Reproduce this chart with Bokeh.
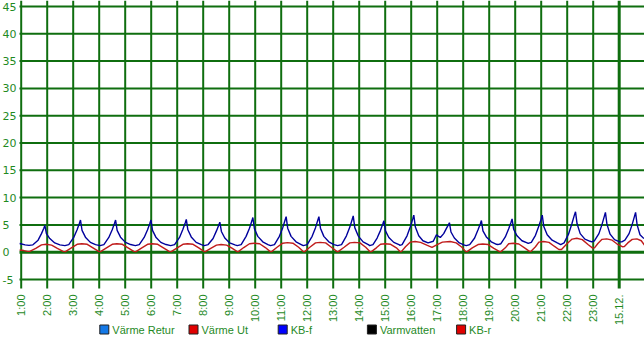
import math
from bokeh.plotting import figure
from bokeh.core.properties import value
from bokeh.embed import file_html
from bokeh.resources import INLINE

# ---- data (hours since midnight 14.12; 24 = 15.12. 00:00) ----
x_ticks = list(range(1, 25))
x_tick_labels = ["1:00", "2:00", "3:00", "4:00", "5:00", "6:00", "7:00", "8:00",
                 "9:00", "10:00", "11:00", "12:00", "13:00", "14:00", "15:00",
                 "16:00", "17:00", "18:00", "19:00", "20:00", "21:00", "22:00",
                 "23:00", "15.12."]
y_ticks = [-5, 0, 5, 10, 15, 20, 25, 30, 35, 40, 45]
y_tick_labels = [str(v) for v in y_ticks]

kbf_t = [0.94, 1.15, 1.30, 1.45, 1.65, 1.78, 1.87, 1.91, 1.97, 2.10, 2.29, 2.49,
         2.68, 2.83, 3.02, 3.15, 3.24, 3.28, 3.34, 3.47, 3.66, 3.86,
         4.03, 4.18, 4.37, 4.50, 4.59, 4.63, 4.69, 4.82, 5.01, 5.21,
         5.39, 5.54, 5.73, 5.86, 5.95, 5.99, 6.05, 6.18, 6.37, 6.57,
         6.75, 6.90, 7.09, 7.22, 7.31, 7.35, 7.41, 7.54, 7.73, 7.93,
         8.04, 8.19, 8.38, 8.51, 8.60, 8.64, 8.70, 8.83, 9.02, 9.22,
         9.31, 9.46, 9.65, 9.78, 9.87, 9.91, 9.97, 10.10, 10.29, 10.49,
         10.59, 10.74, 10.93, 11.06, 11.15, 11.19, 11.25, 11.38, 11.57, 11.77,
         11.85, 12.00, 12.19, 12.32, 12.41, 12.45, 12.51, 12.64, 12.83, 13.03,
         13.17, 13.32, 13.51, 13.64, 13.73, 13.77, 13.83, 13.96, 14.15, 14.35,
         14.40, 14.53, 14.69, 14.82, 14.91, 14.95, 15.01, 15.14, 15.33, 15.53,
         15.56, 15.65, 15.84, 15.97, 16.06, 16.10, 16.16, 16.29, 16.45, 16.65, 16.85,
         16.97, 17.05, 17.12, 17.25, 17.36, 17.43, 17.47, 17.53, 17.66, 17.85, 18.05,
         18.12, 18.25, 18.44, 18.57, 18.66, 18.70, 18.76, 18.89, 19.08, 19.28,
         19.33, 19.45, 19.62, 19.75, 19.84, 19.88, 19.94, 20.07, 20.26, 20.46,
         20.50, 20.62, 20.78, 20.91, 21.00, 21.04, 21.10, 21.23, 21.42, 21.62,
         21.75, 21.88, 22.05, 22.18, 22.27, 22.32, 22.38, 22.50, 22.68, 22.88,
         22.95, 23.05, 23.22, 23.34, 23.43, 23.47, 23.53, 23.65, 23.82, 24.02,
         24.10, 24.22, 24.38, 24.50, 24.59, 24.63, 24.69, 24.80, 24.95]
kbf_v = [1.6, 1.35, 1.25, 1.35, 2.2, 3.4, 4.4, 4.9, 3.4, 2.5, 1.7, 1.35,
         1.2, 1.4, 2.7, 4.1, 5.3, 5.9, 4.0, 2.75, 1.8, 1.4,
         1.2, 1.4, 2.7, 4.1, 5.3, 5.9, 4.0, 2.75, 1.8, 1.4,
         1.2, 1.4, 2.7, 4.1, 5.3, 5.9, 4.0, 2.75, 1.8, 1.4,
         1.2, 1.4, 2.7, 4.2, 5.4, 6.0, 4.1, 2.8, 1.8, 1.4,
         1.2, 1.4, 2.5, 3.9, 5.0, 5.5, 3.8, 2.6, 1.7, 1.35,
         1.2, 1.4, 2.9, 4.4, 5.7, 6.35, 4.3, 2.9, 1.9, 1.4,
         1.2, 1.4, 2.9, 4.5, 5.9, 6.5, 4.4, 2.9, 1.9, 1.4,
         1.2, 1.4, 2.9, 4.5, 5.9, 6.5, 4.4, 2.9, 1.9, 1.4,
         1.2, 1.4, 3.0, 4.6, 6.0, 6.65, 4.5, 3.0, 1.9, 1.4,
         1.2, 1.4, 2.6, 4.0, 5.2, 5.75, 3.9, 2.7, 1.8, 1.4,
         1.25, 1.4, 3.0, 4.7, 6.1, 6.8, 4.6, 3.0, 2.1, 1.7, 2.0,
         3.2, 2.9, 2.7, 3.4, 4.4, 5.0, 5.4, 3.7, 2.6, 1.7, 1.3,
         1.2, 1.4, 2.6, 4.1, 5.2, 5.8, 3.9, 2.8, 1.9, 1.45,
         1.4, 1.55, 2.8, 4.3, 5.5, 6.1, 4.2, 3.0, 2.1, 1.7,
         1.6, 1.8, 3.1, 4.8, 6.1, 6.8, 4.7, 3.2, 2.2, 1.7,
         1.4, 1.7, 3.3, 5.2, 6.7, 7.4, 5.2, 3.4, 2.4, 2.0,
         1.9, 2.1, 3.4, 5.1, 6.6, 7.3, 5.1, 3.3, 2.3, 1.9,
         1.9, 2.2, 3.4, 5.1, 6.6, 7.3, 5.0, 3.2, 2.5]

kbr_t = [0.94, 1.10, 1.25,
         1.33, 1.56, 1.78, 1.96, 2.17, 2.39, 2.61,
         2.70, 2.93, 3.15, 3.33, 3.54, 3.76, 3.98,
         4.05, 4.28, 4.50, 4.68, 4.89, 5.11, 5.33,
         5.41, 5.64, 5.86, 6.04, 6.25, 6.47, 6.69,
         6.77, 7.00, 7.22, 7.40, 7.61, 7.83, 8.03,
         8.08, 8.29, 8.51, 8.69, 8.90, 9.12, 9.31,
         9.35, 9.56, 9.78, 9.96, 10.17, 10.39, 10.58,
         10.63, 10.84, 11.06, 11.24, 11.45, 11.67, 11.86,
         11.90, 12.10, 12.32, 12.50, 12.71, 12.93, 13.15,
         13.19, 13.42, 13.64, 13.82, 14.03, 14.25, 14.42,
         14.47, 14.66, 14.82, 15.00, 15.21, 15.43, 15.58,
         15.62, 15.78, 15.97, 16.15, 16.36, 16.60, 16.80, 17.00, 17.20, 17.50, 17.73, 17.95, 18.10,
         18.15, 18.35, 18.57, 18.75, 18.96, 19.18, 19.40,
         19.45, 19.62, 19.75, 19.93, 20.14, 20.36, 20.55,
         20.60, 20.78, 20.91, 21.09, 21.30, 21.50, 21.68,
         21.78, 21.98, 22.19, 22.37, 22.58, 22.80, 22.98,
         23.05, 23.18, 23.34, 23.52, 23.73, 23.92, 24.12,
         24.20, 24.33, 24.50, 24.68, 24.85, 24.97]
kbr_v = [0.4, 0.3, 0.15,
         0.15, 0.7, 1.35, 1.45, 1.3, 0.7, 0.15,
         0.1, 0.8, 1.45, 1.55, 1.45, 0.8, 0.15,
         0.1, 0.8, 1.45, 1.55, 1.45, 0.8, 0.15,
         0.1, 0.8, 1.45, 1.55, 1.45, 0.8, 0.15,
         0.1, 0.8, 1.45, 1.55, 1.45, 0.8, 0.15,
         0.1, 0.7, 1.3, 1.4, 1.3, 0.7, 0.1,
         0.1, 0.85, 1.55, 1.65, 1.55, 0.85, 0.1,
         0.1, 0.9, 1.65, 1.75, 1.65, 0.9, 0.1,
         0.1, 0.9, 1.7, 1.8, 1.7, 0.9, 0.1,
         0.1, 0.9, 1.7, 1.8, 1.7, 0.9, 0.1,
         0.1, 0.8, 1.45, 1.55, 1.45, 0.8, 0.1,
         0.1, 1.0, 1.85, 1.95, 1.8, 1.3, 0.9, 1.4, 1.85, 1.95, 1.7, 0.9, 0.1,
         0.1, 0.8, 1.4, 1.5, 1.4, 0.7, 0.1,
         0.1, 0.8, 1.55, 1.65, 1.5, 0.8, 0.15,
         0.15, 1.0, 1.85, 1.95, 1.8, 1.1, 0.5,
         0.5, 1.5, 2.4, 2.55, 2.3, 1.4, 0.75,
         0.8, 1.6, 2.35, 2.45, 2.2, 1.5, 1.0,
         1.05, 1.7, 2.35, 2.45, 2.1, 1.3]

legend_names = ["Värme Retur", "Värme Ut", "KB-f", "Varmvatten", "KB-r"]
legend_colors = ["#1478e6", "#e00000", "#0000ff", "#000000", "#e00000"]

GRID = "#0f6e0f"
TEXT = "#1f8a1f"

# ---- geometry (pixels of the 644x339 canvas) ----
W, H = 644, 339
PX_PER_H = 26.0          # one hour
PX_PER_UNIT = 5.46       # one y unit
X_ONE = 20.7             # pixel of 1:00
Y_ZERO = 251.7           # pixel of value 0
PLOT_LEFT_PX, PLOT_BOTTOM_PX = 19.0, 288.0

x_start = 1 - X_ONE / PX_PER_H
x_end = x_start + W / PX_PER_H
y_top = Y_ZERO / PX_PER_UNIT
y_bot = -(H - Y_ZERO) / PX_PER_UNIT
plot_left = x_start + PLOT_LEFT_PX / PX_PER_H
plot_bottom = -(PLOT_BOTTOM_PX - Y_ZERO) / PX_PER_UNIT


def px_x(px):
    return x_start + px / PX_PER_H


def px_y(py):
    return (Y_ZERO - py) / PX_PER_UNIT


p = figure(width=W, height=H, output_backend="svg", toolbar_location=None,
           x_range=(x_start, x_end), y_range=(y_bot, y_top),
           min_border=0, x_axis_location=None, y_axis_location=None)
p.outline_line_color = None
p.grid.visible = False
p.background_fill_color = "white"
p.border_fill_color = "white"

# grid
p.segment(x0=x_ticks, x1=x_ticks, y0=[plot_bottom] * len(x_ticks),
          y1=[y_top] * len(x_ticks), line_color=GRID,
          line_width=[3 if l == "15.12." else 2 for l in x_tick_labels])
p.segment(x0=[plot_left] * len(y_ticks), x1=[x_end] * len(y_ticks),
          y0=y_ticks, y1=y_ticks, line_color=GRID,
          line_width=[3 if v == 0 else 2 for v in y_ticks])

# tick labels
p.text(x=x_ticks, y=[px_y(294.0)] * len(x_ticks), text=x_tick_labels,
       angle=math.pi / 2, text_align="right", text_baseline="middle",
       text_font=value("Liberation Sans"), text_font_size="11px", text_color=TEXT)
p.text(x=[px_x(2.0)] * len(y_ticks), y=y_ticks, text=y_tick_labels,
       text_align="left", text_baseline="middle",
       text_font=value("DejaVu Sans"), text_font_size="11px", text_color=TEXT)

# series
p.line(kbr_t, kbr_v, line_color="#c01c1c", line_width=1.4)
p.line(kbf_t, kbf_v, line_color="#00009c", line_width=1.4)

# legend (squares + labels below the plot area)
n = len(legend_names)
sq_x = [px_x(103.8 + 89.2 * i) for i in range(n)]
tx_x = [px_x(111.8 + 89.2 * i) for i in range(n)]
p.rect(x=sq_x, y=[px_y(329.0)] * n, width=9, height=9,
       width_units="screen", height_units="screen",
       fill_color=legend_colors, line_color="#202020", line_width=1)
p.text(x=tx_x, y=[px_y(329.5)] * n, text=legend_names,
       text_align="left", text_baseline="middle",
       text_font=value("Liberation Sans"), text_font_size="11px", text_color=TEXT)

open("out.html", "w").write(file_html(p, INLINE))
